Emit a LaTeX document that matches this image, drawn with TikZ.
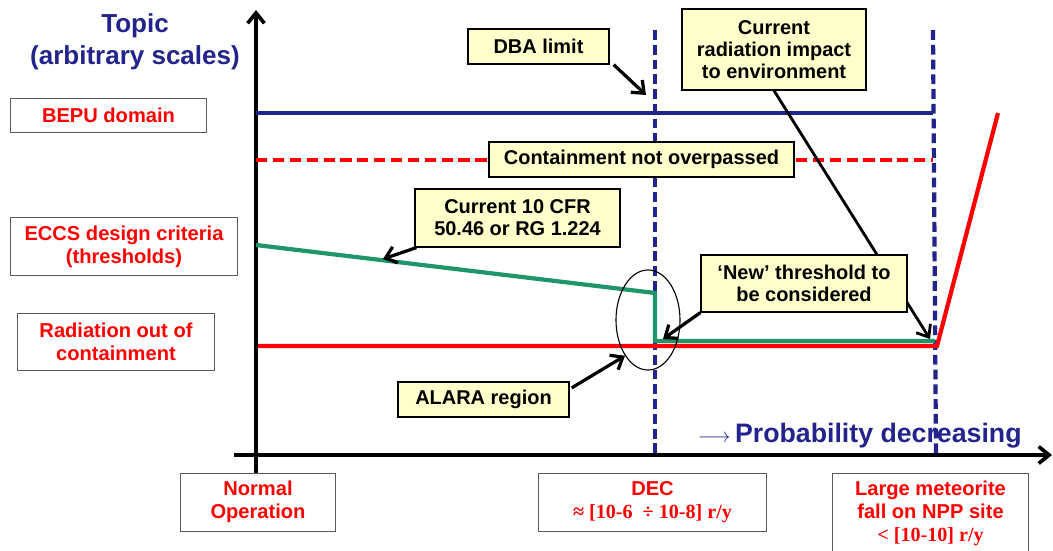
\documentclass[tikz,border=0pt]{standalone}
\usepackage{fontspec}
\setmainfont{Liberation Sans}
\newfontfamily\serifbf{Liberation Serif}
\usepackage{xcolor}
\usepackage{tikz}
\usetikzlibrary{shapes.geometric, arrows.meta, positioning, calc}
\definecolor{navyblue}{RGB}{35,35,140}
\definecolor{notefill}{RGB}{255,255,204}
\definecolor{eccsgreen}{RGB}{30,150,105}
\definecolor{framegray}{RGB}{90,90,90}
\tikzset{
  callout/.style={
    rectangle, draw=black, line width=0.9pt,
    fill=notefill,
    minimum width=#1, minimum height=0.875cm,
    inner sep=0pt, align=center,
    font=\fontsize{14.2}{15.6}\selectfont\bfseries
  },
  callout/.default=4cm,
  topicbox/.style={
    rectangle, draw=framegray, line width=0.7pt,
    fill=white, text=red,
    minimum width=#1, minimum height=1.425cm,
    inner sep=0pt, align=center,
    font=\fontsize{14.3}{16.4}\selectfont\bfseries
  },
  topicbox/.default=4.9cm,
  alararing/.style={
    ellipse, draw=black, line width=0.8pt,
    minimum width=1.6cm, minimum height=2.5cm,
    inner sep=0pt
  },
  axisline/.style={
    -{Straight Barb[length=2.6mm, width=4.2mm]},
    line width=2.6pt
  },
  notearrow/.style={
    -{Straight Barb[length=2.6mm, width=4.2mm]},
    line width=2.3pt
  },
  bepuline/.style={draw=navyblue, line width=3pt},
  contline/.style={draw=red, line width=3pt, dash pattern=on 8pt off 4pt},
  eccsline/.style={draw=eccsgreen, line width=3pt},
  radline/.style={draw=red, line width=3pt},
  declimit/.style={draw=navyblue, line width=3pt, dash pattern=on 7pt off 3.5pt}
}

\begin{document}
\begin{tikzpicture}[x=0.025cm, y=-0.025cm]
\useasboundingbox (0,0) rectangle (1053,551);

%------------------------------------------------------
% AXES AND LIMIT LINES
%------------------------------------------------------
\coordinate (ybot) at (256,473);
\coordinate (ytop) at (256,10);
\coordinate (xleft) at (234,455);
\coordinate (xright) at (1052,455);
\coordinate (dectop) at (655,30);
\coordinate (decbot) at (655,456);
\coordinate (mettop) at (933,30);
\coordinate (metbot) at (936,456);

\draw[axisline] (ybot) -- (ytop);
\draw[axisline] (xleft) -- (xright);
\draw[declimit] (dectop) -- (decbot);
\draw[declimit] (mettop) -- (metbot);

% curves of the four topics
\draw[bepuline] (256,113) -- (933,113);
\draw[contline] (256,160) -- (933,160);
\draw[eccsline] (256,245) -- (655,293) -- (655,341) -- (935,341);
\draw[radline] (258,346) -- (937,346) -- (998,113);

%------------------------------------------------------
% LABELS ON THE LEFT
%------------------------------------------------------
\node[align=center, text=navyblue, font=\fontsize{18.5}{23}\selectfont\bfseries] (topic) at (135,42) {Topic\\(arbitrary scales)};
\node[topicbox=4.875cm, minimum height=0.85cm] (bepu) at (108.5,115) {BEPU domain};
\node[topicbox=5.65cm] (eccs) at (124,246.5) {ECCS design criteria\\(thresholds)};
\node[topicbox=4.9cm] (radout) at (116,341.5) {Radiation out of\\containment};

%------------------------------------------------------
% LABELS BELOW THE AXIS
%------------------------------------------------------
\node[topicbox=3.85cm, minimum height=1.45cm] (normal) at (258,502) {Normal\\Operation};
\node[topicbox=5.675cm, minimum height=1.45cm] (dec) at (652.5,502) {DEC\\{\serifbf\bfseries ≈ [10-6 \ ÷ 10-8] r/y}};
\node[topicbox=4.875cm, minimum height=1.975cm] (meteor) at (930.5,513.5) {Large meteorite\\fall on NPP site\\{\serifbf\bfseries < [10-10] r/y}};

\node[anchor=base west, text=navyblue, font=\fontsize{19}{22}\selectfont\bfseries] (prob) at (693,442) {{\fontsize{14}{14}\selectfont$\longrightarrow$}\,Probability decreasing};

%------------------------------------------------------
% CALLOUTS AND THEIR ARROWS
%------------------------------------------------------
\node[alararing] (ring) at (648,320) {};

\node[callout=3.525cm] (dba) at (538.5,46.5) {DBA limit};
\coordinate (dbatip) at (646,95);
\draw[notearrow] ([xshift=0.1cm]dba.south east) -- (dbatip);

\node[callout=4.6cm, minimum height=2.025cm] (crad) at (774,49.5) {Current\\radiation impact\\to environment};
\coordinate (cradtip) at (930,339);
\draw[notearrow, line width=2pt] (crad.south) -- (cradtip);

\node[callout=7.625cm] (cont) at (641.5,159.5) {Containment not overpassed};

\node[callout=5.125cm, minimum height=1.45cm] (cfr) at (517.5,218) {Current 10 CFR\\50.46 or RG 1.224};
\coordinate (cfrtip) at (383,259);
\draw[notearrow] ([xshift=0.05cm]cfr.south west) -- (cfrtip);

\node[callout=5.15cm, minimum height=1.425cm] (newthr) at (804,283.5) {`New' threshold to\\be considered};
\coordinate (newtip) at (663,339);
\draw[notearrow] (newthr.south west) -- (newtip);

\node[callout=4.275cm] (alara) at (483.5,399.5) {ALARA region};
\draw[notearrow] ([xshift=0.05cm, yshift=0.29cm]alara.east) -- (ring.south west);

\end{tikzpicture}
\end{document}
